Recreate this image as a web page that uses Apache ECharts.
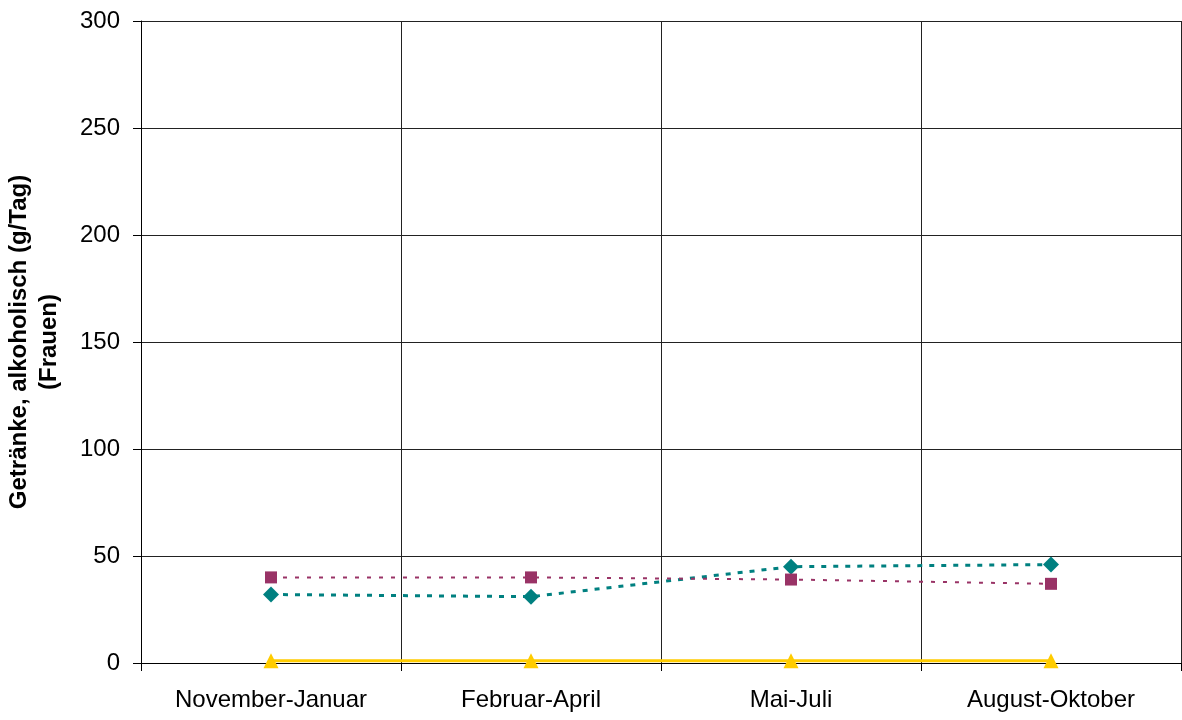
<!DOCTYPE html>
<html>
<head>
<meta charset="utf-8">
<script src="https://cdn.jsdelivr.net/npm/echarts@6/dist/echarts.min.js"></script>
<style>
  html, body { margin: 0; padding: 0; background: #fff; }
  #chart { width: 1182px; height: 720px; }
</style>
</head>
<body>
<div id="chart"></div>
<script>
// Alcoholic beverage intake (women), g/day, by season
const categories = ['November-Januar', 'Februar-April', 'Mai-Juli', 'August-Oktober'];
const seriesTeal = [32, 31, 45, 46];
const seriesPurple = [40, 40, 39, 37];
const seriesYellow = [1, 1, 1, 1];
const yTicks = [0, 50, 100, 150, 200, 250, 300];

const chart = echarts.init(document.getElementById('chart'), null, { renderer: 'canvas' });
const font = 'Liberation Sans, Arial, sans-serif';

chart.setOption({
  animation: false,
  backgroundColor: '#ffffff',
  grid: { left: 141, right: 1, top: 21, bottom: 57, containLabel: false, outerBoundsMode: 'none' },
  xAxis: {
    type: 'category',
    data: categories,
    boundaryGap: true,
    axisLine: { show: true, lineStyle: { color: '#000', width: 1 } },
    axisTick: { show: true, alignWithLabel: false, length: 8, lineStyle: { color: '#000' } },
    axisLabel: { color: '#000', fontFamily: font, fontSize: 24, margin: 25 },
    splitLine: { show: true, lineStyle: { color: '#222', width: 1 } }
  },
  yAxis: {
    type: 'value',
    min: yTicks[0],
    max: yTicks[yTicks.length - 1],
    interval: 50,
    name: 'Getränke, alkoholisch (g/Tag)\n(Frauen)',
    nameLocation: 'middle',
    nameGap: 77,
    nameRotate: 90,
    nameTextStyle: { color: '#000', fontFamily: font, fontSize: 24, fontWeight: 'bold', lineHeight: 30 },
    axisLine: { show: true, lineStyle: { color: '#000', width: 1 } },
    axisTick: { show: true, length: 8, lineStyle: { color: '#000' } },
    axisLabel: { color: '#000', fontFamily: font, fontSize: 24, margin: 21 },
    splitLine: { show: true, lineStyle: { color: '#222', width: 1 } }
  },
  series: [
    {
      type: 'line',
      data: seriesTeal,
      symbol: 'diamond',
      symbolSize: 16,
      itemStyle: { color: '#008080' },
      lineStyle: { color: '#008080', width: 3, type: [5, 7] },
      z: 3
    },
    {
      type: 'line',
      data: seriesPurple,
      symbol: 'rect',
      symbolSize: 12,
      itemStyle: { color: '#993366' },
      lineStyle: { color: '#993366', width: 2, type: [4, 8] },
      z: 3
    },
    {
      type: 'line',
      data: seriesYellow,
      symbol: 'triangle',
      symbolSize: 15,
      itemStyle: { color: '#FFCC00' },
      lineStyle: { color: '#FFCC00', width: 3 },
      z: 4
    }
  ]
});
</script>
</body>
</html>
